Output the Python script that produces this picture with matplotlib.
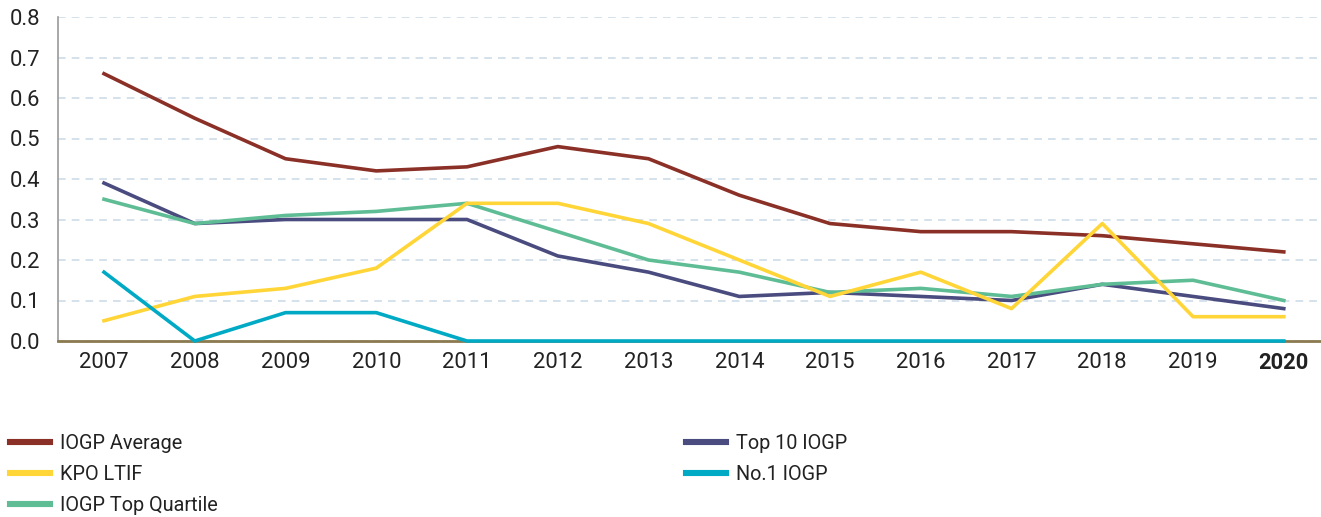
import matplotlib
matplotlib.use("Agg")
import matplotlib.pyplot as plt
from matplotlib.lines import Line2D

plt.rcParams['font.family'] = ['Roboto', 'DejaVu Sans']

years = ["2007", "2008", "2009", "2010", "2011", "2012", "2013", "2014",
         "2015", "2016", "2017", "2018", "2019", "2020"]
iogp_average = [0.66, 0.55, 0.45, 0.42, 0.43, 0.48, 0.45, 0.36, 0.29, 0.27, 0.27, 0.26, 0.24, 0.22]
top10_iogp = [0.39, 0.29, 0.30, 0.30, 0.30, 0.21, 0.17, 0.11, 0.12, 0.11, 0.10, 0.14, 0.11, 0.08]
top_quartile = [0.35, 0.29, 0.31, 0.32, 0.34, 0.27, 0.20, 0.17, 0.12, 0.13, 0.11, 0.14, 0.15, 0.10]
kpo_ltif = [0.05, 0.11, 0.13, 0.18, 0.34, 0.34, 0.29, 0.20, 0.11, 0.17, 0.08, 0.29, 0.06, 0.06]
no1_iogp = [0.17, 0.00, 0.07, 0.07, 0.00, 0.00, 0.00, 0.00, 0.00, 0.00, 0.00, 0.00, 0.00, 0.00]
yticks = [0.0, 0.1, 0.2, 0.3, 0.4, 0.5, 0.6, 0.7, 0.8]

c_avg = "#8B3027"
c_top10 = "#4A4B7E"
c_quart = "#5FBD95"
c_kpo = "#FFD537"
c_no1 = "#00AAC5"

fig = plt.figure(figsize=(13.21, 5.17), dpi=100)
ax = fig.add_axes([58/1321, (517-341)/517, 1 - 58/1321, (341-17)/517])

x = list(range(len(years)))
ax.plot(x, iogp_average, color=c_avg, lw=2.6, zorder=3)
ax.plot(x, top10_iogp, color=c_top10, lw=2.6, zorder=3)
ax.plot(x, top_quartile, color=c_quart, lw=2.6, zorder=3)
ax.plot(x, kpo_ltif, color=c_kpo, lw=2.6, zorder=4)
ax.plot(x, no1_iogp, color=c_no1, lw=2.6, zorder=5, clip_on=False)

ax.set_ylim(0, 0.8)
ax.set_xlim(-0.507, 13.41)
ax.set_yticks(yticks)
ax.set_yticklabels([f"{v:.1f}" for v in yticks])
ax.set_xticks(x)
ax.set_xticklabels(years)
for lab in ax.get_xticklabels():
    if lab.get_text() == "2020":
        lab.set_fontweight("bold")
ax.tick_params(axis='both', length=0, labelsize=15.8, colors="#222222")
ax.tick_params(axis='x', pad=8)
ax.tick_params(axis='y', pad=34.5)
for lab in ax.get_yticklabels():
    lab.set_horizontalalignment("left")

ax.yaxis.grid(True, linestyle=(0, (5, 4)), color="#C9D8E6", lw=1.1)
ax.set_axisbelow(True)
ax.spines['top'].set_visible(False)
ax.spines['right'].set_visible(False)
ax.spines['left'].set_color("#9A9A9A")
ax.spines['left'].set_linewidth(1.2)
ax.spines['bottom'].set_color("#8B7A4F")
ax.spines['bottom'].set_linewidth(2)

def h(c):
    return Line2D([], [], color=c, lw=4.4)

common = dict(loc="upper left", frameon=False, fontsize=14.3, handlelength=2.0,
              handletextpad=0.5, labelspacing=0.6, borderaxespad=0,
              borderpad=0, labelcolor="#222222")
leg1 = fig.legend([h(c_avg), h(c_kpo), h(c_quart)],
                  ["IOGP Average", "KPO LTIF", "IOGP Top Quartile"],
                  bbox_to_anchor=(10/1321, 1 - 434/517), **common)
leg2 = fig.legend([h(c_top10), h(c_no1)],
                  ["Top 10 IOGP", "No.1 IOGP"],
                  bbox_to_anchor=(686/1321, 1 - 434/517), **common)

fig.savefig("out.png", dpi=100)
